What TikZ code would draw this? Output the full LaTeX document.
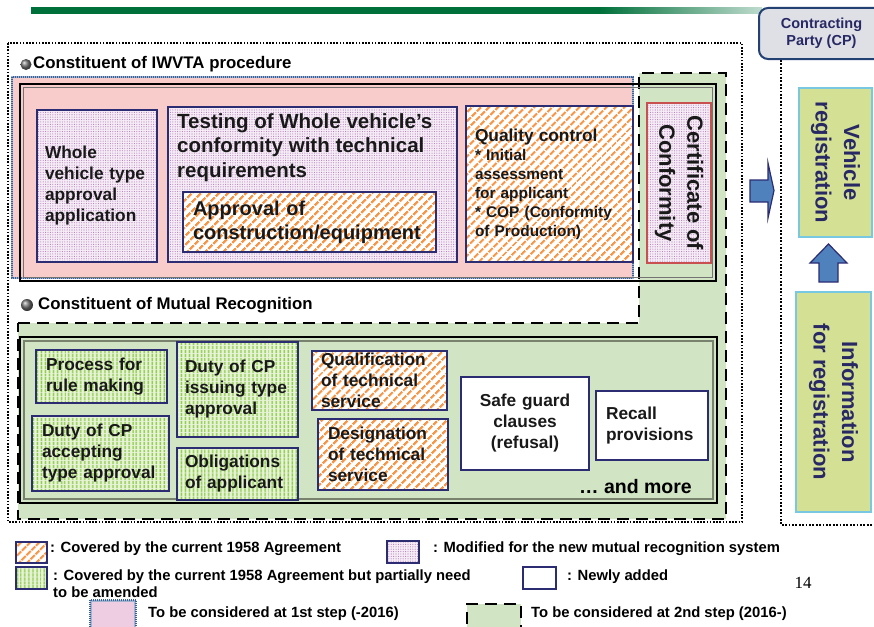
\documentclass[tikz,border=0pt]{standalone}
\usepackage{fontspec}
\setmainfont{Liberation Sans}
\newfontfamily\timesfont{Liberation Serif}
\usetikzlibrary{patterns.meta}
\newcommand\myfs[2]{\fontsize{#1}{#2}\selectfont}
\definecolor{navy}{RGB}{44,44,114}
\definecolor{navytxt}{RGB}{40,40,100}
\definecolor{purpbg}{RGB}{246,236,246}
\definecolor{purpdot}{RGB}{175,125,185}
\definecolor{orange1}{RGB}{247,150,70}
\definecolor{grnbg}{RGB}{232,243,218}
\definecolor{grn1}{RGB}{140,204,70}
\definecolor{grnreg}{RGB}{209,229,196}
\definecolor{pinkreg}{RGB}{249,204,204}
\definecolor{pinkleg}{RGB}{238,205,227}
\definecolor{dotblue}{RGB}{60,95,150}
\definecolor{dotbluelt}{RGB}{160,180,210}
\definecolor{topgreen}{RGB}{0,112,58}
\definecolor{regfill}{RGB}{212,224,148}
\definecolor{regdraw}{RGB}{120,200,225}
\definecolor{cpfill}{RGB}{222,224,230}
\definecolor{cpdraw}{RGB}{35,65,115}
\definecolor{arrowblue}{RGB}{79,129,189}
\definecolor{certred}{RGB}{200,80,80}
\begin{document}
\begin{tikzpicture}[x=1pt,y=-1pt,
  navyb/.style={draw=navy, line width=1.6},
  purp/.style={navyb, preaction={fill=purpbg}, pattern={Dots[distance=2.4pt,radius=0.55pt]}, pattern color=purpdot},
  orng/.style={navyb, preaction={fill=white}, pattern={Lines[angle=45,distance=6.5pt,line width=2.4pt]}, pattern color=orange1},
  grnst/.style={navyb, preaction={fill=grnbg}, pattern={Lines[angle=90,distance=4pt,line width=1.8pt]}, pattern color=grn1},
  wbox/.style={navyb, fill=white},
  lbl/.style={font=\bfseries\myfs{17.3}{21}, align=left, inner ysep=0pt, text=black!90},
  cbl/.style={font=\bfseries\myfs{17.3}{21}, align=center, inner ysep=0pt, text=black!90},
  leg/.style={font=\bfseries\myfs{14.8}{17}, anchor=west, inner sep=0pt, align=left},
  regbox/.style={fill=regfill, draw=regdraw, line width=1.8, rotate=-90, align=center, font=\bfseries\myfs{22}{28.5}, text=navytxt},
  barrow/.style={fill=arrowblue, draw=navy, line width=1.2, line join=miter},
  gdash/.style={draw=black, line width=2.8, dash pattern=on 12pt off 7pt},
  bdot/.style={draw=dotblue, line width=2.2, dash pattern=on 1pt off 1pt}
]
\useasboundingbox (0,0) rectangle (874,626);
\clip (0,0) rectangle (874,626);
\fill[white] (0,0) rectangle (874,626);

% top bar
\draw[topgreen!70, line width=1] (31,13.5) -- (874,13.5);
\fill[topgreen] (31,7.5) rectangle (600,14);
\shade[left color=topgreen, right color=topgreen!25] (599.5,7.5) rectangle (762,14);

% outer dotted frame and CP column
\draw[line width=1.6, dash pattern=on 1.6pt off 1.6pt] (8,43) rectangle (742,522);
\draw[line width=2, dash pattern=on 1.8pt off 1.6pt] (781,60) -- (781,525) -- (874,525);

% second step region
\filldraw[fill=grnreg, gdash] (18,323) -- (639,323) -- (639,73) -- (726,73) -- (726,519) -- (18,519) -- cycle;

% first step region
\fill[pinkreg] (12,77) rectangle (633,278);
\draw[draw=dotbluelt, line width=2.2] (12,77) rectangle (633,278);
\draw[bdot] (12,77) rectangle (633,278);

% frames
\draw[line width=2.6] (20,84) rectangle (716,281);
\draw[line width=0.8, black!55] (23.5,87.5) rectangle (712.5,277.5);
\draw[line width=2.6] (20,337) rectangle (717,503);
\draw[line width=1.4, draw={rgb,255:red,120;green,130;blue,110}] (24,341) rectangle (713,499);

% headings
\shade[ball color=black!55] (26,64.5) circle (5.5pt);
\node[font=\bfseries\myfs{16.8}{20}, anchor=west, inner sep=0pt] (h1) at (33,64.5) {Constituent of IWVTA procedure};
\shade[ball color=black!55] (27,305) circle (6pt);
\node[font=\bfseries\myfs{16.8}{20}, anchor=west, inner sep=0pt] (h2) at (38,305) {Constituent of Mutual Recognition};

% IWVTA constituents
\node[purp, lbl, minimum width=120, minimum height=152, inner xsep=8, text width=104] (whole) at (97,186) {Whole\\vehicle type\\approval\\application};
\node[purp, minimum width=289, minimum height=155] (testing) at (312.5,184.5) {};
\node[font=\bfseries\myfs{20.5}{24.5}, anchor=west, inner sep=0pt, align=left, text=black!90] (testtxt) at (177,147.5) {Testing of Whole vehicle’s\\conformity with technical\\requirements};
\node[orng, lbl, font=\bfseries\myfs{20}{24}, minimum width=253, minimum height=60, inner xsep=10, text width=233] (approval) at (309.5,222) {Approval of\\construction/equipment};
\node[orng, lbl, font=\bfseries\myfs{15.4}{19}, minimum width=167, minimum height=156, inner xsep=9, text width=149] (quality) at (549.5,184) {{\myfs{17.3}{19}Quality control}\\{*} Initial\\assessment\\for applicant\\{*} COP (Conformity\\of Production)};
\node[purp, draw=certred, rotate=-90, minimum width=160, minimum height=64, align=center, font=\bfseries\myfs{22}{28}, text=black!90] (cert) at (679,183) {Certificate of\\Conformity};

% Mutual recognition constituents
\node[grnst, lbl, minimum width=131, minimum height=53, inner xsep=10, text width=111] (proc) at (101.5,376.5) {Process for\\rule making};
\node[grnst, lbl, minimum width=137, minimum height=75, inner xsep=10, text width=117] (dutyacc) at (100.5,453.5) {Duty of CP\\accepting\\type approval};
\node[grnst, lbl, minimum width=121, minimum height=95, inner xsep=8, text width=105] (dutyiss) at (237.5,389.5) {Duty of CP\\issuing type\\approval};
\node[grnst, lbl, minimum width=121, minimum height=52, inner xsep=8, text width=105] (oblig) at (237.5,474) {Obligations\\of applicant};
\node[orng, lbl, minimum width=135, minimum height=59, inner xsep=9, text width=117] (qual) at (379.5,380.5) {Qualification\\of technical\\service};
\node[orng, lbl, minimum width=130, minimum height=71, inner xsep=10, text width=110] (desig) at (383,454.5) {Designation\\of technical\\service};
\node[wbox, cbl, minimum width=128, minimum height=93, inner xsep=9, text width=110] (safe) at (525,423.5) {Safe guard\\clauses\\(refusal)};
\node[wbox, lbl, minimum width=112, minimum height=69, inner xsep=10, text width=92] (recall) at (652,425.5) {Recall\\provisions};
\node[font=\bfseries\myfs{19.5}{23}, anchor=east, inner sep=0pt] (more) at (692,487) {… and more};

% Contracting party column
\node[fill=cpfill, draw=cpdraw, line width=2, rounded corners=9, minimum width=125, minimum height=51, align=center, font=\bfseries\myfs{14.5}{17.5}, text=navytxt] (cp) at (821.5,33.5) {Contracting\\Party (CP)};
\node[regbox, minimum width=149, minimum height=73] (vreg) at (835.5,162.5) {Vehicle\\registration};
\node[regbox, minimum width=220, minimum height=75] (info) at (833.5,402) {Information\\for registration};

% block arrows
\draw[barrow] (750,180) -- (768,180) -- (768,163) -- (774,190.5) -- (768,218) -- (768,202) -- (750,202) -- cycle;
\draw[barrow] (819,282) -- (819,263) -- (810,263) -- (828.5,244) -- (847,263) -- (838,263) -- (838,282) -- cycle;

% legend
\node[orng, line width=1.5, minimum width=31, minimum height=21, inner sep=0pt] (sw1) at (31.5,552.5) {};
\node[leg] (t1) at (50,549) {: Covered by the current 1958 Agreement};
\node[purp, line width=1.5, minimum width=32, minimum height=22, inner sep=0pt] (sw2) at (403,552) {};
\node[leg] (t2) at (433,549) {: Modified for the new mutual recognition system};
\node[grnst, line width=1.5, minimum width=31, minimum height=22, inner sep=0pt] (sw3) at (31.5,578) {};
\node[leg] (t3) at (53,583.5) {: Covered by the current 1958 Agreement but partially need\\to be amended};
\node[wbox, line width=1.5, minimum width=33, minimum height=22, inner sep=0pt] (sw4) at (539.5,578) {};
\node[leg] (t4) at (567,577) {: Newly added};
\node[fill=pinkleg, draw=dotbluelt, line width=2.2, minimum width=44, minimum height=39, inner sep=0pt] (sw5) at (113,620.5) {};
\draw[bdot] (sw5.south west) rectangle (sw5.north east);
\node[leg] (t5) at (148,614) {To be considered at 1st step (-2016)};
\node[fill=grnreg, gdash, minimum width=54, minimum height=36, inner sep=0pt] (sw6) at (494,622) {};
\node[leg] (t6) at (531,614) {To be considered at 2nd step (2016-)};
\node[font=\timesfont\myfs{17}{20}, inner sep=0pt] (pg) at (803,583) {14};
\end{tikzpicture}
\end{document}
